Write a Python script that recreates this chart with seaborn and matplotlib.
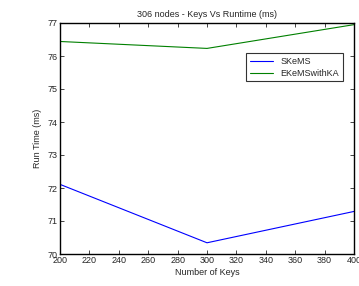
import numpy as np
import pandas as pd
import matplotlib
matplotlib.use("Agg")
import matplotlib.pyplot as plt
import seaborn as sns

# values
keys = [200, 300, 400]
skems = [72.11, 70.34, 71.29]
ekems_ka = [76.44, 76.23, 76.95]
series_names = ["SKeMS", "EKeMSwithKA"]

df = pd.DataFrame({
    "keys": keys * 2,
    "runtime": skems + ekems_ka,
    "method": [series_names[0]] * 3 + [series_names[1]] * 3,
})

sns.set_style("white")
plt.rcParams['font.family'] = ['Liberation Sans', 'DejaVu Sans']

fig = plt.figure(figsize=(3.59, 2.86), dpi=100)
ax = fig.add_axes([60 / 359, 32 / 286, 294 / 359, 231 / 286])

sns.lineplot(data=df, x="keys", y="runtime", hue="method",
             palette=["#0000ff", "#008000"], linewidth=0.8, ax=ax)

ax.set_xlim(200, 400)
ax.set_ylim(70, 77)
ax.set_xticks(np.arange(200, 401, 20))
ax.set_yticks(np.arange(70, 78, 1))
ax.tick_params(direction="in", length=3, width=0.6, labelsize=6.5,
               top=True, right=True, bottom=True, left=True, pad=1.5)
for s in ax.spines.values():
    s.set_linewidth(1.0)
    s.set_color("black")

ax.set_title("306 nodes - Keys Vs Runtime (ms)", fontsize=6.5, pad=4)
ax.set_xlabel("Number of Keys", fontsize=6.5, labelpad=2)
ax.set_ylabel("Run Time (ms)", fontsize=6.5, labelpad=4)

leg = ax.legend(loc="upper right", bbox_to_anchor=(0.962, 0.868), fontsize=6.5,
                frameon=True, fancybox=False, edgecolor="black", borderaxespad=0,
                borderpad=0.4, handlelength=2.6, labelspacing=0.3)
leg.get_frame().set_linewidth(0.8)

fig.savefig("out.png", dpi=100)
